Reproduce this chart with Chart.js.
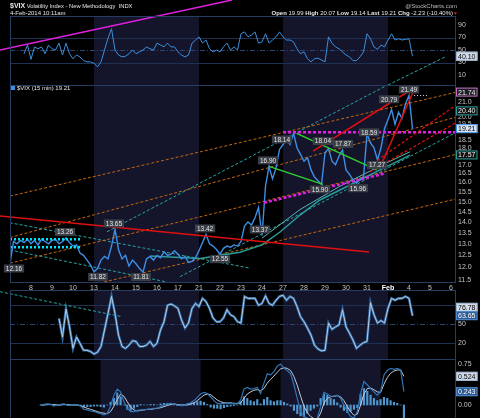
<!DOCTYPE html>
<html>
<head>
<meta charset="utf-8">
<script src="https://cdn.jsdelivr.net/npm/chart.js@4.4.1/dist/chart.umd.min.js"></script>
<style>
html, body { margin: 0; padding: 0; background: #000; }
#wrap { position: relative; width: 480px; height: 418px; overflow: hidden; background: #000; font-family: "Liberation Sans", Arial, sans-serif; }
canvas { position: absolute; left: 0; top: 0; }
.t { position: absolute; color: #e6e6e6; white-space: nowrap; line-height: 8px; }
</style>
</head>
<body>
<div id="wrap">
  <canvas id="cRsi" width="480" height="418"></canvas>
  <canvas id="cPrice" width="480" height="418"></canvas>
  <canvas id="cStoch" width="480" height="418"></canvas>
  <canvas id="cMacd" width="480" height="418"></canvas>
  <div class="t" style="left:10px;top:2px;font-size:5.8px"><b style="font-size:7px">$VIX</b> Volatility Index - New Methodology &nbsp;INDX</div>
  <div class="t" style="left:10px;top:9px;font-size:6px">4-Feb-2014 10:11am</div>
  <div class="t" style="right:23px;top:2px;font-size:6px;color:#bbb">@StockCharts.com</div>
  <div class="t" style="right:27px;top:9px;font-size:6px"><b>Open</b> 19.99 <b>High</b> 20.07 <b>Low</b> 19.14 <b>Last</b> 19.21 <b>Chg</b> -2.23 (-10.40%)</div>
  <div class="t" style="left:453px;top:9px;font-size:5px;color:#e02020">&#9660;</div>
  <div class="t" style="left:11px;top:84px;font-size:6px"><span style="display:inline-block;width:4px;height:4px;background:#3d8fe6;margin-right:2px"></span>$VIX (15 min) 19.21</div>
</div>
<script>
// 15-min chart resampled to 6 readings per trading day
const BARS_PER_DAY = 6;
const X_MAX = 21.19;
const FONT = 'Liberation Sans';

const dayLabels = ['7', '8', '9', '10', '13', '14', '15', '16', '17', '21', '22',
  '23', '24', '27', '28', '29', '30', '31', 'Feb', '4', '5', '6'];
const shadedDays = [[4, 9], [13, 18]];

const price = [
  12.16, 13.10, 13.00, 13.15, 13.05, 13.20,
  13.00, 13.15, 12.95, 13.20, 13.10, 13.00,
  13.15, 13.20, 13.00, 13.10, 13.26, 13.05,
  12.90, 12.95, 12.60, 12.50, 12.30, 12.10,
  11.82, 11.95, 12.30, 12.45, 12.35, 12.90,
  13.65, 12.75, 12.35, 12.50, 12.05, 12.30,
  12.15, 11.95, 11.81, 12.35, 12.45, 12.30,
  12.50, 12.40, 12.65, 12.50, 12.55, 12.70,
  12.55, 12.35, 12.45, 12.20, 12.25, 12.40,
  12.70, 13.05, 13.42, 13.00, 12.90, 12.75,
  12.55, 12.80, 12.90, 12.85, 12.95, 12.90,
  13.10, 13.80, 14.00, 13.85, 14.20, 14.70,
  13.37, 15.80, 16.90, 16.20, 16.80, 17.90,
  18.20, 18.50, 18.20, 18.90, 18.00, 17.60,
  17.20, 17.40, 16.70, 16.30, 16.10, 15.90,
  17.70, 17.95, 17.20, 17.00, 17.50, 17.87,
  16.70, 16.45, 16.15, 15.96, 16.20, 16.30,
  18.90, 18.30, 18.00, 17.27, 18.00, 19.20,
  19.80, 20.50, 19.50, 20.30, 19.90, 20.90,
  21.49, 19.21
];

const rsi = [
  null, null, null, null, 44, 58,
  35, 55, 52, 55, 44, 58,
  52, 50, 61, 42, 61, 44,
  36, 42, 39, 33, 31, 31,
  29, 23, 31, 50, 69, 84,
  50, 42, 39, 40, 44, 50,
  44, 47, 50, 55, 52, 50,
  61, 58, 55, 61, 55, 55,
  47, 42, 39, 42, 61, 66,
  71, 61, 66, 52, 47, 50,
  47, 55, 61, 50, 55, 50,
  76, 79, 71, 74, 79, 61,
  63, 76, 61, 66, 71, 79,
  71, 66, 66, 63, 52, 44,
  47, 36, 31, 36, 37, 34,
  31, 71, 61, 55, 52, 47,
  42, 39, 33, 33, 39, 47,
  76, 68, 55, 51, 58, 55,
  66, 76, 66, 68, 66, 67,
  68, 40.10
];

const stoch = [
  null, null, null, null, null, null,
  null, null, null, null, null, null,
  null, null, 59, 30, 74, 46,
  12, 30, 20, 9, 9, 7,
  3, 6, 15, 41, 67, 94,
  67, 33, 15, 12, 17, 24,
  23, 15, 15, 17, 23, 15,
  20, 41, 54, 80, 82, 79,
  75, 57, 44, 52, 75, 83,
  78, 91, 86, 75, 60, 54,
  54, 60, 73, 65, 62, 54,
  52, 94, 91, 91, 91, 80,
  83, 95, 83, 80, 88, 94,
  96, 88, 94, 91, 78, 62,
  54, 44, 33, 17, 11, 8,
  9, 52, 42, 46, 49, 73,
  46, 36, 25, 12, 17, 21,
  23, 84, 65, 52, 56, 52,
  75, 91, 88, 91, 91, 94,
  91, 63.65
];

const macd = [
  null, null, null, null, null, null,
  0.00, 0.01, 0.02, 0.01, -0.01, 0.00,
  0.01, 0.02, 0.00, -0.01, 0.01, 0.00,
  -0.02, -0.08, -0.09, -0.11, -0.12, -0.14,
  -0.16, -0.18, -0.15, -0.02, 0.18, 0.29,
  0.24, 0.06, -0.06, -0.12, -0.12, -0.10,
  -0.09, -0.09, -0.08, -0.07, -0.06, -0.06,
  -0.03, 0.00, 0.02, 0.03, 0.02, 0.00,
  -0.01, -0.01, 0.02, 0.04, 0.08, 0.14,
  0.20, 0.23, 0.21, 0.15, 0.08, 0.03,
  0.02, 0.03, 0.04, 0.03, 0.02, 0.02,
  0.09, 0.29, 0.32, 0.29, 0.30, 0.32,
  0.21, 0.40, 0.57, 0.55, 0.61, 0.71,
  0.75, 0.67, 0.63, 0.57, 0.37, 0.12,
  -0.12, -0.21, -0.24, -0.26, -0.27, -0.24,
  -0.03, 0.23, 0.20, 0.16, 0.16, 0.18,
  0.12, 0.00, -0.12, -0.21, -0.24, -0.12,
  0.21, 0.43, 0.37, 0.30, 0.24, 0.18,
  0.24, 0.55, 0.63, 0.67, 0.65, 0.67,
  0.64, 0.243
];

const macdSignal = [
  null, null, null, null, null, null,
  0.00, 0.00, 0.01, 0.01, 0.01, 0.00,
  0.00, 0.01, 0.01, 0.00, 0.00, 0.00,
  -0.01, -0.04, -0.06, -0.08, -0.10, -0.12,
  -0.14, -0.15, -0.16, -0.12, -0.02, 0.10,
  0.20, 0.16, 0.06, -0.04, -0.09, -0.11,
  -0.10, -0.09, -0.08, -0.08, -0.07, -0.06,
  -0.05, -0.03, -0.01, 0.01, 0.02, 0.01,
  0.00, 0.00, 0.00, 0.02, 0.04, 0.08,
  0.13, 0.18, 0.20, 0.19, 0.14, 0.09,
  0.06, 0.04, 0.04, 0.04, 0.03, 0.03,
  0.04, 0.12, 0.20, 0.24, 0.27, 0.28,
  0.26, 0.30, 0.40, 0.47, 0.53, 0.60,
  0.66, 0.68, 0.67, 0.63, 0.52, 0.36,
  0.16, -0.02, -0.14, -0.21, -0.25, -0.26,
  -0.15, 0.03, 0.12, 0.15, 0.16, 0.17,
  0.15, 0.08, -0.03, -0.12, -0.19, -0.17,
  0.00, 0.20, 0.30, 0.31, 0.28, 0.24,
  0.23, 0.38, 0.50, 0.58, 0.62, 0.64,
  0.64, 0.524
];

const macdHist = [
  null, null, null, null, null, null,
  0.00, 0.01, 0.01, 0.00, -0.02, 0.00,
  0.01, 0.01, -0.01, -0.01, 0.01, 0.00,
  -0.01, -0.03, -0.03, -0.03, -0.02, -0.02,
  -0.03, -0.04, 0.00, 0.05, 0.12, 0.22,
  0.15, 0.00, -0.08, -0.10, -0.06, -0.03,
  0.01, 0.00, 0.00, 0.01, 0.01, 0.00,
  0.02, 0.03, 0.03, 0.02, 0.00, -0.01,
  -0.01, -0.01, 0.02, 0.02, 0.04, 0.06,
  0.07, 0.05, 0.01, -0.04, -0.06, -0.06,
  -0.07, -0.05, -0.03, -0.02, -0.01, 0.00,
  0.06, 0.15, 0.12, 0.08, 0.06, 0.10,
  0.02, 0.10, 0.14, 0.08, 0.06, 0.08,
  0.08, 0.05, 0.02, -0.02, -0.10, -0.16,
  -0.20, -0.22, -0.15, -0.10, -0.06, -0.02,
  0.12, 0.20, 0.18, 0.12, 0.10, 0.04,
  -0.04, -0.10, -0.14, -0.12, -0.08, -0.05,
  0.20, 0.30, 0.25, 0.18, 0.12, 0.08,
  0.10, 0.14, 0.12, 0.08, 0.05, 0.03,
  0.00, -0.24
];

// moving averages on price, [day, value]
const maFast = [[6.67, 12.47], [9.05, 12.37], [10.95, 12.63], [12.0, 12.95], [12.86, 13.53],
  [13.81, 14.33], [14.76, 15.08], [15.71, 15.6], [16.67, 16.14], [17.62, 16.7], [19.05, 17.56]];
const maSlow = [[12.0, 13.25], [13.81, 14.6], [15.71, 15.8], [17.62, 16.92], [19.05, 17.76]];

// drawn trend lines, [day, value] end points
const orangeTrends = [
  [[0, 15.28], [21.19, 21.71]],
  [[0, 13.28], [21.19, 19.95]],
  [[0, 12.17], [21.19, 17.59]],
  [[4.48, 11.42], [21.19, 15.12]]
];
const tealTrends = [
  [[4.62, 13.54], [18.43, 22.65]],
  [[8.1, 11.63], [21.19, 18.93]],
  [[-0.48, 14.05], [11.43, 11.97]],
  [[0, 12.73], [7.48, 11.42]]
];
const redTrend = [[-0.48, 14.28], [17.1, 12.64]];
const redWedge = [
  [[14.43, 17.80], [19.29, 22.10]],
  [[17.67, 16.98], [19.29, 22.10]]
];
const redDashed = [
  [[17.29, 17.08], [21.19, 20.75]],
  [[17.14, 16.60], [21.19, 19.56]]
];
const magentaTrends = [
  [[13.0, 18.97], [21.19, 18.97]],
  [[12.1, 14.94], [17.86, 16.50]]
];
const greenTrends = [
  [[12.33, 16.90], [14.90, 15.90]],
  [[13.65, 18.90], [17.46, 16.70]]
];
const cyanLevels = [
  [[0, 13.20], [3.43, 13.20]],
  [[0, 12.85], [3.43, 12.85]]
];
const highMark = [[19.24, 21.49], [19.95, 21.49]];
const rsiTrends = {
  magenta: [[-0.48, 50], [10.57, 130]],
  teal: [[18.0, -6], [20.71, 38.8]]
};
const stochTrend = [[-0.48, 101.5], [5.33, 62]];

// price annotations
const labelDays = [0.19, 2.62, 4.19, 4.95, 6.24, 9.29, 10.0, 11.9, 12.29, 12.95,
  14.76, 14.9, 15.86, 16.57, 17.1, 17.48, 18.05, 19.0];
const labelValues = [12.16, 13.26, 11.82, 13.65, 11.81, 13.42, 12.55, 13.37, 16.90, 18.14,
  15.90, 18.04, 17.87, 15.96, 18.59, 17.27, 20.79, 21.49];
const labelSides = ['b', 'a', 'b', 'a', 'b', 'a', 'b', 'a', 'a', 'a',
  'b', 'a', 'a', 'b', 'a', 'b', 'a', 'a'];

// last values shown on right axes
const rsiMarks = [40.10];
const priceMarks = [21.74, 20.40, 19.21, 17.57];
const stochMarks = [76.78, 63.65];
const macdMarks = [0.524, 0.243];

const priceTicks = [11.5, 12.0, 12.5, 13.0, 13.5, 14.0, 14.5, 15.0, 15.5, 16.0, 16.5,
  17.0, 18.0, 18.5, 19.5, 20.0, 21.0];

const FRAME = '#283b60';
const GRID = '#1f3152';
const TICK = '#c4c4c4';
const LIGHT_BOX = { fill: '#d3dbe8', stroke: '#9fb4d0', color: '#000' };
const BLUE_BOX = { fill: '#2b5a8e', stroke: '#4f8ad0', color: '#fff' };

function pts(arr) {
  const out = [];
  arr.forEach((v, i) => { if (v !== null) out.push({ x: i / BARS_PER_DAY, y: v }); });
  return out;
}
function seg(pairs) { return pairs.map(p => ({ x: p[0], y: p[1] })); }
function lineDs(data, color, width, dash, order, clip) {
  const ds = { type: 'line', data, borderColor: color, borderWidth: width, borderDash: dash || [],
    pointRadius: 0, tension: 0, fill: false, order };
  if (clip) ds.clip = clip;
  return ds;
}

function xScale(show) {
  return {
    type: 'linear', min: 0, max: X_MAX, display: show,
    grid: { display: false, drawTicks: false }, border: { display: false },
    ticks: {
      padding: 2, maxRotation: 0, autoSkip: false,
      color: c => (c.tick && c.tick.label === 'Feb') ? '#fff' : TICK,
      font: c => ({ family: FONT, size: 7, weight: (c.tick && c.tick.label === 'Feb') ? 'bold' : 'normal' }),
      callback: v => dayLabels[v] ?? ''
    },
    afterBuildTicks: s => { s.ticks = dayLabels.map((d, k) => ({ value: k })).slice(1); },
    afterFit: s => {
      s.height = show ? 12 : 0;
      s.paddingLeft = 0; s.paddingRight = 0;
    }
  };
}
function yScale(type, min, max, tickVals, fmt) {
  return {
    type, position: 'right', min, max,
    grid: { display: false, drawTicks: false }, border: { display: false },
    ticks: { color: TICK, padding: 3, font: { family: FONT, size: 7 }, callback: v => fmt(v) },
    afterBuildTicks: s => { s.ticks = tickVals.map(v => ({ value: v })); },
    afterFit: s => { s.width = 25; s.paddingTop = 0; s.paddingBottom = 0; }
  };
}

function valueBox(ctx, x, y, text, st) {
  ctx.font = '7px ' + FONT;
  const w = ctx.measureText(text).width + 4;
  ctx.fillStyle = st.fill;
  ctx.fillRect(x, y - 4.5, w, 9);
  ctx.strokeStyle = st.stroke;
  ctx.lineWidth = 1;
  ctx.strokeRect(x + 0.5, y - 4, w - 1, 8);
  ctx.fillStyle = st.color;
  ctx.textBaseline = 'middle';
  ctx.textAlign = 'left';
  ctx.fillText(text, x + 2, y + 0.5);
}

const panelPlugin = {
  id: 'panel',
  beforeDatasetsDraw(chart, args, opts) {
    const { ctx, chartArea: a, scales: { x, y } } = chart;
    ctx.save();
    ctx.fillStyle = '#14142b';
    shadedDays.forEach(([s, e]) => {
      const x0 = x.getPixelForValue(s), x1 = x.getPixelForValue(e);
      ctx.fillRect(x0, a.top, x1 - x0, a.bottom - a.top);
    });
    ctx.strokeStyle = GRID;
    ctx.lineWidth = 1;
    (opts.solid || []).forEach(v => {
      const py = Math.round(y.getPixelForValue(v)) + 0.5;
      ctx.beginPath(); ctx.moveTo(a.left, py); ctx.lineTo(a.right, py); ctx.stroke();
    });
    ctx.setLineDash([5, 2, 1, 2]);
    ctx.strokeStyle = '#2c4470';
    (opts.dashDot || []).forEach(v => {
      const py = Math.round(y.getPixelForValue(v)) + 0.5;
      ctx.beginPath(); ctx.moveTo(a.left, py); ctx.lineTo(a.right, py); ctx.stroke();
    });
    ctx.restore();
  },
  afterDatasetsDraw(chart, args, opts) {
    const { ctx, chartArea: a, scales: { x, y } } = chart;
    ctx.save();
    ctx.strokeStyle = FRAME;
    ctx.lineWidth = 1;
    ctx.strokeRect(Math.round(a.left) + 0.5, Math.round(a.top) + 0.5,
      Math.round(a.right - a.left), Math.round(a.bottom - a.top));
    if (opts.labels) {
      ctx.font = '6.5px ' + FONT;
      ctx.textAlign = 'center';
      ctx.textBaseline = 'middle';
      labelValues.forEach((v, k) => {
        const text = v.toFixed(2);
        const px = x.getPixelForValue(labelDays[k]);
        const py = y.getPixelForValue(v) + (labelSides[k] === 'a' ? -6 : 5);
        const w = ctx.measureText(text).width + 4;
        ctx.fillStyle = '#3a3e47';
        ctx.fillRect(px - w / 2, py - 4, w, 8);
        ctx.fillStyle = '#e4e4e4';
        ctx.fillText(text, px, py + 0.5);
      });
    }
    (opts.marks || []).forEach(m => {
      valueBox(ctx, a.right + 1, y.getPixelForValue(m.v), m.text, m.style);
    });
    ctx.restore();
  }
};

Chart.defaults.font.family = FONT;
Chart.defaults.animation = false;

function baseOptions(top, bottom, showX, yCfg, panel) {
  return {
    responsive: false, devicePixelRatio: 1, events: [],
    layout: { padding: { left: 10, right: 0, top, bottom } },
    plugins: { legend: { display: false }, tooltip: { enabled: false }, panel },
    scales: { x: xScale(showX), y: yCfg }
  };
}

// RSI panel
new Chart(document.getElementById('cRsi'), {
  type: 'line',
  data: { datasets: [
    lineDs(pts(rsi), '#3b8fdc', 1, null, 1),
    lineDs(seg(rsiTrends.magenta), '#e020e0', 1.5, null, 0, { left: 10, top: 16, right: 0, bottom: 0 }),
    lineDs(seg(rsiTrends.teal), '#2aa8a8', 1, [3, 2], 0)
  ] },
  options: baseOptions(16, 333, false,
    yScale('linear', -6, 104.4, [10, 30, 50, 70, 90], v => String(v)),
    { solid: [30, 70], dashDot: [50],
      marks: rsiMarks.map(v => ({ v, text: v.toFixed(2), style: LIGHT_BOX })) }),
  plugins: [panelPlugin]
});

// price panel
const priceSets = [
  lineDs(pts(price), '#3d8fe6', 1.4, null, 2),
  lineDs(seg(maFast), '#2a9d9a', 1.5, null, 3),
  lineDs(seg(maSlow), '#58b9b6', 1, null, 3),
  lineDs(seg(redTrend), '#e01010', 1.5, null, 1, { left: 10, top: 0, right: 0, bottom: 0 }),
  lineDs(seg(highMark), '#dddddd', 1, [1, 2], 1)
];
orangeTrends.forEach(t => priceSets.push(lineDs(seg(t), '#c0680e', 1, [3, 2], 4)));
tealTrends.forEach(t => priceSets.push(lineDs(seg(t), '#26a6a6', 1, [3, 2], 4)));
redWedge.forEach(t => priceSets.push(lineDs(seg(t), '#e01010', 1.5, null, 1)));
redDashed.forEach(t => priceSets.push(lineDs(seg(t), '#e01010', 1.2, [3, 2], 1)));
magentaTrends.forEach(t => priceSets.push(lineDs(seg(t), '#e020e0', 2.5, [3, 2], 1)));
greenTrends.forEach(t => priceSets.push(lineDs(seg(t), '#30d030', 1.5, null, 1)));
cyanLevels.forEach(t => priceSets.push(lineDs(seg(t), '#00e5ff', 2.5, [2, 2], 1)));

const priceMarkStyles = [
  { fill: '#1c1c24', stroke: '#c070c0', color: '#eee' },
  { fill: '#111', stroke: '#2a9d9a', color: '#eee' },
  { fill: '#d8e4f4', stroke: '#3d8fe6', color: '#000' },
  { fill: '#111', stroke: '#2a9d9a', color: '#eee' }
];
new Chart(document.getElementById('cPrice'), {
  type: 'line',
  data: { datasets: priceSets },
  options: baseOptions(85, 124, true,
    yScale('logarithmic', 11.42, 22.27, priceTicks, v => v.toFixed(1)),
    { labels: true,
      marks: priceMarks.map((v, k) => ({ v, text: v.toFixed(2), style: priceMarkStyles[k] })) }),
  plugins: [panelPlugin]
});

// slow stochastic panel
new Chart(document.getElementById('cStoch'), {
  type: 'line',
  data: { datasets: [
    lineDs(pts(stoch), '#2f6aa3', 2.6, null, 2),
    lineDs(pts(stoch), '#b7cbe2', 1, null, 1),
    lineDs(seg(stochTrend), '#26a6a6', 1, [3, 2], 0, { left: 10, top: 0, right: 0, bottom: 0 })
  ] },
  options: baseOptions(290, 59, false,
    yScale('linear', -4.8, 104.2, [20, 50], v => String(v)),
    { solid: [20, 80], dashDot: [50],
      marks: [
        { v: stochMarks[0], text: stochMarks[0].toFixed(2), style: LIGHT_BOX },
        { v: stochMarks[1], text: stochMarks[1].toFixed(2), style: BLUE_BOX }
      ] }),
  plugins: [panelPlugin]
});

// MACD panel
new Chart(document.getElementById('cMacd'), {
  type: 'line',
  data: { datasets: [
    { type: 'bar', data: pts(macdHist), backgroundColor: '#4f97cf', barThickness: 1.5, order: 3 },
    lineDs(pts(macdSignal), '#c4ccd8', 1, null, 2),
    lineDs(pts(macd), '#2f75b5', 1.2, null, 1)
  ] },
  options: baseOptions(359, 0, false,
    yScale('linear', -0.238, 0.841, [0, 0.75], v => v.toFixed(2)),
    { marks: [
        { v: macdMarks[0], text: macdMarks[0].toFixed(3), style: LIGHT_BOX },
        { v: macdMarks[1], text: macdMarks[1].toFixed(3), style: BLUE_BOX }
      ] }),
  plugins: [panelPlugin]
});
</script>
</body>
</html>
